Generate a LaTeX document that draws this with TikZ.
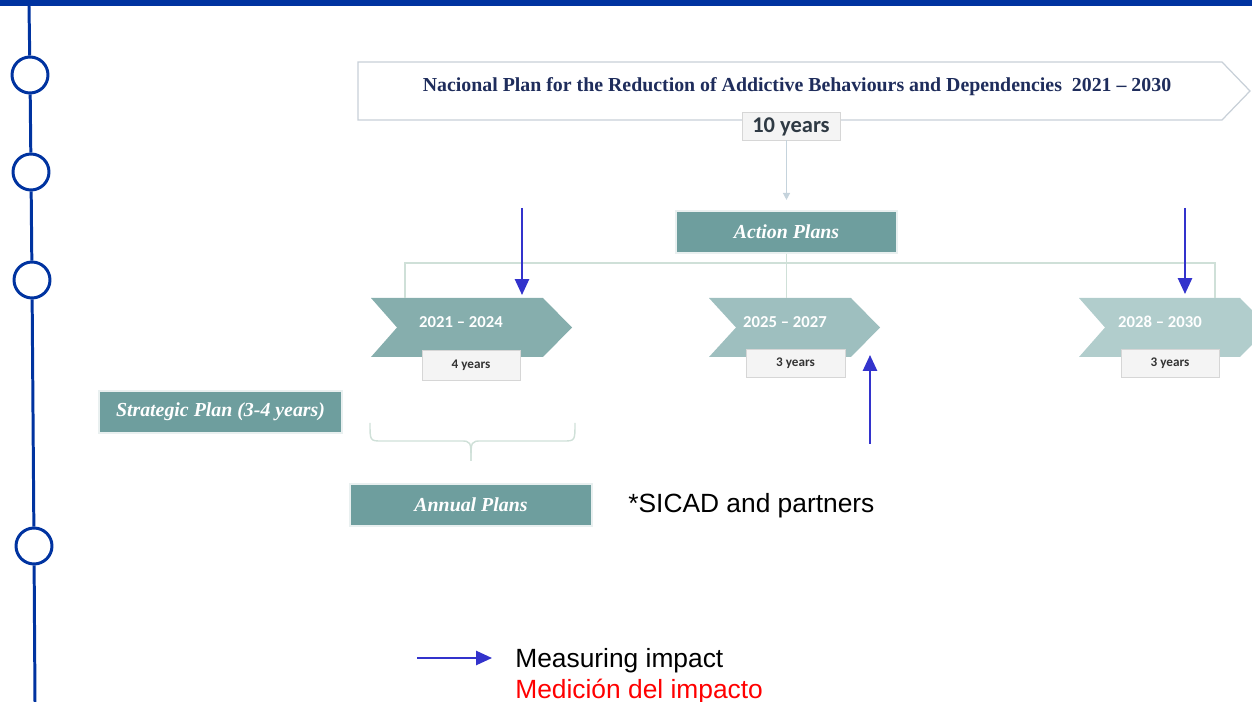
\documentclass[tikz,border=0pt]{standalone}
\usepackage{fontspec}
\setmainfont{Carlito}
\newfontfamily\serifbi{Liberation Serif}
\newfontfamily\arialf{Liberation Sans}
\usetikzlibrary{arrows.meta}
\definecolor{tlblue}{HTML}{0033A0}
\definecolor{teal}{HTML}{6E9E9E}
\definecolor{chA}{HTML}{86AEAD}
\definecolor{chB}{HTML}{9EBFBF}
\definecolor{chC}{HTML}{B1CDCC}
\definecolor{connc}{HTML}{CFE0D8}
\definecolor{tenconn}{HTML}{C5D3DC}
\definecolor{arrowblue}{HTML}{3333CC}
\definecolor{navy}{HTML}{1F2D5C}
\definecolor{boxfill}{HTML}{F4F4F4}
\definecolor{boxline}{HTML}{D6D6D6}
\definecolor{banline}{HTML}{C8D0D8}
\definecolor{tentext}{HTML}{2F3A44}
\tikzset{
  tlcircle/.style={circle, draw=tlblue, line width=1.7pt, fill=white, minimum size=0.72cm, inner sep=0pt},
  tlline/.style={draw=tlblue, line width=1.7pt},
  tealbox/.style={fill=teal, draw=white!85!teal, line width=0.6pt, text=white, font=\serifbi\bfseries\itshape\fontsize{11.3}{13}\selectfont, inner sep=0pt},
  yearbox/.style={fill=boxfill, draw=boxline, line width=0.5pt, text=black!80, font=\bfseries\fontsize{7.5}{9}\selectfont, inner sep=0pt},
  chevtext/.style={text=white, font=\bfseries\fontsize{9.5}{11}\selectfont, inner sep=0pt},
  conn/.style={draw=connc, line width=0.8pt},
  measure/.style={draw=arrowblue, line width=1.2pt, -{Triangle[length=9pt,width=8pt]}},
}
\begin{document}
\begin{tikzpicture}[x=0.02cm,y=-0.02cm]
\useasboundingbox (0,0) rectangle (1252,702);
% top bar
\fill[tlblue] (0,0) rectangle (1252,6);
% timeline
\coordinate (t0) at (29,6);
\coordinate (t5) at (35,702);
\node[tlcircle] (c1) at (30,75) {};
\node[tlcircle] (c2) at (31,172) {};
\node[tlcircle] (c3) at (32,280) {};
\node[tlcircle] (c4) at (34,546) {};
\draw[tlline] (t0) -- (c1) (c1) -- (c2) (c2) -- (c3) (c3) -- (c4) (c4) -- (t5);
% banner
\draw[draw=banline, fill=white, line width=0.7pt] (358,62) -- (1222,62) -- (1250,91) -- (1222,120) -- (358,120) -- cycle;
\node[text=navy, font=\serifbi\bfseries\fontsize{11.3}{13}\selectfont, inner sep=0pt] (title) at (797,87)
  {Nacional Plan for the Reduction of Addictive Behaviours and Dependencies\ \ 2021 – 2030};
\node[yearbox, text=tentext, font=\bfseries\fontsize{12.8}{14}\selectfont, minimum width=1.96cm, minimum height=0.56cm] (ten) at (791,126) {\raisebox{-3.8pt}[0pt][0pt]{10 years}};
% action plans
\node[tealbox, minimum width=4.42cm, minimum height=0.84cm] (action) at (786.5,232) {Action Plans};
\draw[draw=tenconn, line width=0.8pt, -{Triangle[length=4pt,width=4pt]}, shorten >=6pt] (ten.south -| action.north) -- (action.north);
% chevrons
\fill[chA] (371,298) -- (543,298) -- (572,327.5) -- (543,357) -- (371,357) -- (397,327.5) -- cycle;
\fill[chB] (709,298) -- (851,298) -- (880,327.5) -- (851,357) -- (709,357) -- (736,327.5) -- cycle;
\fill[chC] (1079,298) -- (1240,298) -- (1269,327.5) -- (1240,357) -- (1079,357) -- (1105,327.5) -- cycle;
\node[chevtext] (ch1) at (461,322) {2021 – 2024};
\node[chevtext] (ch2) at (785,322) {2025 – 2027};
\node[chevtext] (ch3) at (1160,322) {2028 – 2030};
\coordinate (k1) at (405,298);
\coordinate (k2) at (786.5,298);
\coordinate (k3) at (1215,298);
\coordinate (bus) at (786.5,263);
\draw[conn] (action.south) -- (k2);
\draw[conn] (k1) |- (bus) -| (k3);
% year boxes
\node[yearbox, minimum width=1.96cm, minimum height=0.6cm] (y1) at (471,365) {4 years};
\node[yearbox, minimum width=1.98cm, minimum height=0.56cm] (y2) at (795.5,363) {3 years};
\node[yearbox, minimum width=1.96cm, minimum height=0.56cm] (y3) at (1170,363) {3 years};
% strategic and annual
\node[tealbox, minimum width=4.86cm, minimum height=0.84cm] (strategic) at (220.5,412) {Strategic Plan (3-4 years)};
\node[tealbox, minimum width=4.84cm, minimum height=0.84cm] (annual) at (471,505) {Annual Plans};
% brace
\draw[conn] (370,423) .. controls (370,441) .. (382,441) -- (460,441) .. controls (471,441) .. (471,461);
\draw[conn] (575,423) .. controls (575,441) .. (563,441) -- (482,441) .. controls (471,441) .. (471,461);
% SICAD
\node[anchor=west, font=\arialf\fontsize{15}{18}\selectfont, inner sep=0pt] (sicad) at (628,506) {*SICAD and partners};
% measuring arrows
\coordinate (a1s) at (522,208); \coordinate (a1e) at (522,295);
\coordinate (a2s) at (1185,208); \coordinate (a2e) at (1185,294);
\coordinate (a3s) at (870,444); \coordinate (a3e) at (870,355);
\coordinate (l1s) at (417,658); \coordinate (l1e) at (492,658);
\draw[measure] (a1s) -- (a1e);
\draw[measure] (a2s) -- (a2e);
\draw[measure] (a3s) -- (a3e);
\draw[measure] (l1s) -- (l1e);
% legend
\node[anchor=west, font=\arialf\fontsize{15}{18}\selectfont, inner sep=0pt] (leg1) at (515,661) {Measuring impact};
\node[anchor=west, text=red, font=\arialf\fontsize{15}{18}\selectfont, inner sep=0pt] (leg2) at (515,692) {Medición del impacto};
\end{tikzpicture}
\end{document}
